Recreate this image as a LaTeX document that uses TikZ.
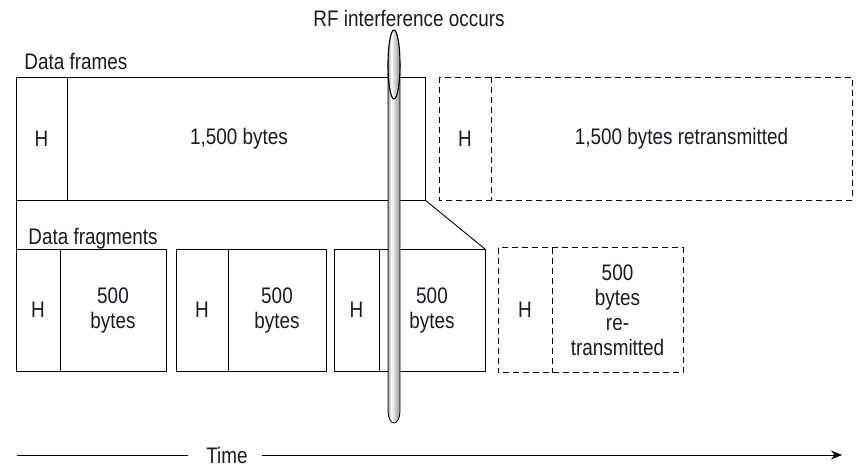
\documentclass[tikz,border=0pt]{standalone}
\usepackage{fontspec}
\setmainfont{Liberation Sans}[FakeStretch=0.84]
\usetikzlibrary{positioning, arrows.meta, calc}
\definecolor{inkblue}{RGB}{25,25,40}
% shading of the interference needle
\pgfdeclarehorizontalshading{needle}{100bp}{color(0bp)=(gray!75); color(25bp)=(gray!75); color(38bp)=(white); color(55bp)=(gray!40); color(75bp)=(gray!85); color(100bp)=(gray!85)}

\begin{document}
\begin{tikzpicture}[
        x=1pt, y=-1pt,
        line width=0.9pt,
        font=\fontsize{22.5}{25}\selectfont,
        % 1. Cells of frames and fragments
        cell/.style={
                draw,
                inner sep=0pt,
                outer sep=0pt,
                align=center,
                text=inkblue
            },
        frame/.style={cell, minimum height=123pt},
        frag/.style={cell, minimum height=122pt},
        % 2. Retransmitted cells (outline drawn afterwards)
        redo/.style={draw=none},
        dashline/.style={dash pattern=on 6pt off 4pt},
        % 3. Headings and loose texts
        heading/.style={
                inner sep=0pt,
                text=inkblue,
                anchor=base west
            },
        txt/.style={inner sep=0pt, text=inkblue}
    ]
    \useasboundingbox (0,0) rectangle (867,476);

    % 1. Headings
    \node[heading, anchor=base] (rfLabel) at (409,27) {RF interference occurs};
    \node[heading] (lblFrames) at (24,70) {Data frames};
    \node[heading] (lblFrags) at (28,244) {Data fragments};

    % 2. Data frame and its retransmission
    \node[frame, minimum width=51pt, anchor=north west] (frH) at (16,77) {H};
    \node[frame, minimum width=358pt, right=0pt of frH] (frB) {};
    \node[txt] (frText) at ([xshift=-7pt]frB.center) {1,500 bytes};
    \node[frame, redo, minimum width=52pt, right=14pt of frB] (rfH) {H};
    \node[frame, redo, minimum width=361pt, right=0pt of rfH] (rfB) {};
    \node[txt] (rfText) at ([xshift=10pt]rfB.center) {1,500 bytes retransmitted};
    \draw[dashline] (rfH.north west) rectangle (rfB.south east);
    \draw[dashline] (rfH.north east) -- (rfH.south east);

    % 3. Fragments
    \node[frag, minimum width=44pt, anchor=north west] (fAH) at (16,249) {H};
    \node[frag, minimum width=106pt, right=0pt of fAH] (fAB) {500\\bytes};
    \node[frag, minimum width=52pt, right=10pt of fAB] (fBH) {H};
    \node[frag, minimum width=98pt, right=0pt of fBH] (fBB) {500\\bytes};
    \node[frag, minimum width=45pt, right=8pt of fBB] (fCH) {H};
    \node[frag, minimum width=106pt, right=0pt of fCH] (fCB) {500\\bytes};
    \node[frag, redo, minimum height=125pt, minimum width=54pt, right=13pt of fCB] (rgH) {H};
    \node[frag, redo, minimum height=125pt, minimum width=131pt, right=0pt of rgH] (rgB) {500\\bytes\\re-\\transmitted};
    \draw[dashline] (rgH.north west) rectangle (rgB.south east);
    \draw[dashline] (rgH.north east) -- (rgH.south east);

    % Frame split into fragments
    \draw (frH.south west) -- (fAH.north west);
    \draw (frB.south east) -- (fCB.north east);

    % 4. Time axis
    \node[txt] (time) at (227,455) {Time};
    \coordinate (tStart) at (17,455);
    \coordinate (tEnd) at (842,455);
    \draw (tStart) -- ([xshift=-18pt]time.west);
    \draw[-{Stealth[length=11pt, width=9pt]}] ([xshift=14pt]time.east) -- (tEnd);

    % 5. Interference needle
    \shadedraw[shading=needle, line width=0.8pt]
    (388,64) -- (388,411) arc[start angle=180, end angle=0, x radius=6, y radius=12] -- (400,64) -- cycle;
    \shadedraw[shading=needle, line width=1.1pt] (394,64.5) ellipse [x radius=6, y radius=34.5];

\end{tikzpicture}
\end{document}
